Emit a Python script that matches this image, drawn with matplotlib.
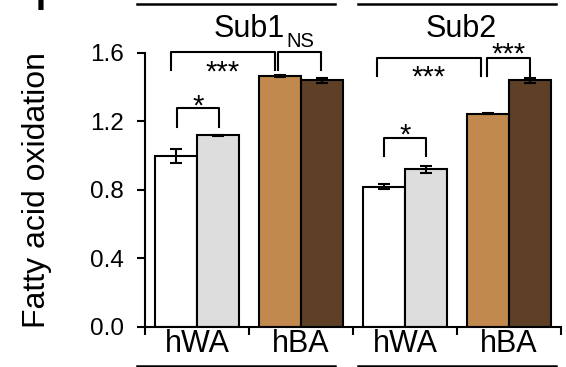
import matplotlib.pyplot as plt
from matplotlib.lines import Line2D

plt.rcParams['font.family'] = ['Liberation Sans', 'DejaVu Sans']

groups = ['Sub1', 'Sub2']
categories = ['hWA', 'hBA', 'hWA', 'hBA']
left_vals = [1.00, 1.465, 0.82, 1.245]
left_err = [0.04, 0.004, 0.015, 0.003]
right_vals = [1.12, 1.44, 0.92, 1.44]
right_err = [0.004, 0.016, 0.02, 0.016]
left_colors = ['white', '#C1894D', 'white', '#C1894D']
right_colors = ['#DDDDDD', '#5D4026', '#DDDDDD', '#5D4026']
yticks = [0.0, 0.4, 0.8, 1.2, 1.6]

# brackets: x1, x2, top, left leg end, right leg end, label, label baseline
brackets = [
    (-0.19, 0.21, 1.279, 1.168, 1.168, '*', 1.238),
    (-0.25, 0.75, 1.606, 1.50, 1.50, '***', 1.437),
    (0.78, 1.19, 1.606, 1.50, 1.50, '', 0),
    (1.80, 2.20, 1.104, 0.998, 0.998, '*', 1.074),
    (1.73, 2.73, 1.571, 1.466, 1.466, '***', 1.407),
    (2.79, 3.20, 1.571, 1.466, 1.448, '***', 1.542),
]

fig = plt.figure(figsize=(5.66, 3.67), dpi=100)
ax = fig.add_axes([0.2562, 0.109, 0.735, 0.7466])

x = list(range(len(categories)))
w = 0.4
ax.bar([i - w / 2 for i in x], left_vals, w, color=left_colors,
       edgecolor='black', linewidth=1.5, zorder=2)
ax.bar([i + w / 2 for i in x], right_vals, w, color=right_colors,
       edgecolor='black', linewidth=1.5, zorder=2)
ax.errorbar([i - w / 2 for i in x], left_vals, yerr=left_err, fmt='none',
            ecolor='black', elinewidth=1.5, capsize=4, capthick=1.5, zorder=3)
ax.errorbar([i + w / 2 for i in x], right_vals, yerr=right_err, fmt='none',
            ecolor='black', elinewidth=1.5, capsize=4, capthick=1.5, zorder=3)

for x1, x2, top, l1, l2, lab, ty in brackets:
    ax.plot([x1, x1, x2, x2], [l1, top, top, l2], color='black', lw=1.5,
            clip_on=False)
    if lab:
        ax.text((x1 + x2) / 2, ty, lab, ha='center', va='baseline',
                fontsize=21)

ax.set_xlim(-0.5, 3.5)
ax.set_ylim(0, 1.6)
ax.set_yticks(yticks)
ax.set_yticklabels([f'{v:.1f}' for v in yticks])
ax.set_xticks([-0.5, 0.5, 1.5, 2.5, 3.5])
ax.set_xticklabels([])
ax.set_xticks(x, minor=True)
ax.set_xticklabels(categories, minor=True, fontsize=22)
ax.tick_params(axis='x', which='minor', length=0, pad=1.5)
ax.tick_params(axis='both', which='major', length=6, width=1.5,
               direction='out', labelsize=17.5, color='black')
ax.tick_params(axis='y', pad=9)

for s in ['top', 'right']:
    ax.spines[s].set_visible(False)
for s in ['left', 'bottom']:
    ax.spines[s].set_linewidth(1.5)

ax.set_ylabel('Fatty acid oxidation', fontsize=23)
ax.yaxis.set_label_coords(-0.224, 0.5)

# group titles
ax.text(0.5, 1.693, groups[0], ha='center', va='baseline', fontsize=22)
ax.text(0.856, 1.635, 'NS', ha='left', va='baseline', fontsize=14.5)
ax.text(2.54, 1.693, groups[1], ha='center', va='baseline', fontsize=22)

# group lines at top and bottom
for x1, x2 in [(137, 335), (358, 556)]:
    for yy in [1 - 4 / 367, 1 / 367]:
        fig.add_artist(Line2D([x1 / 566, x2 / 566], [yy, yy], color='black',
                              lw=1.8, transform=fig.transFigure))

# panel letter, cut by the top edge as in the source figure
fig.text(41 / 566, 1 - 10 / 367, 'I', ha='center', va='baseline',
         fontsize=26, fontweight='bold')

fig.savefig('out.png', dpi=100)
